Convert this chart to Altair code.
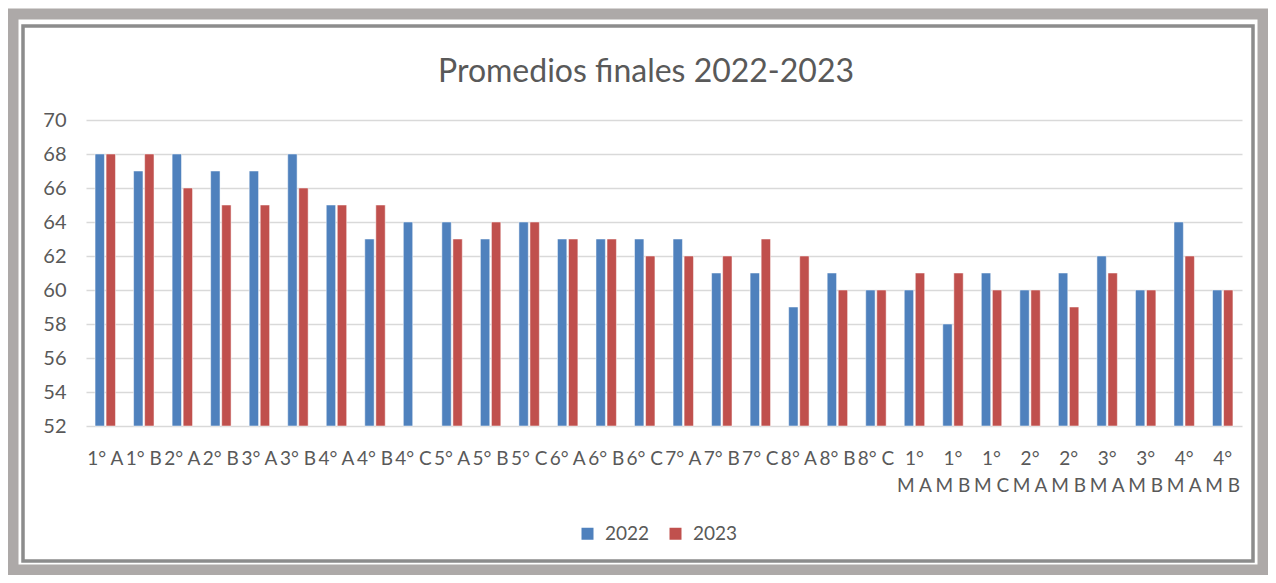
import altair as alt
import pandas as pd

grupos = ["1° A", "1° B", "2° A", "2° B", "3° A", "3° B", "4° A", "4° B", "4° C",
          "5° A", "5° B", "5° C", "6° A", "6° B", "6° C", "7° A", "7° B", "7° C",
          "8° A", "8° B", "8° C", "1° M A", "1° M B", "1° M C", "2° M A", "2° M B",
          "3° M A", "3° M B", "4° M A", "4° M B"]
v2022 = [68, 67, 68, 67, 67, 68, 65, 63, 64, 64, 63, 64, 63, 63, 63, 63, 61, 61,
         59, 61, 60, 60, 58, 61, 60, 61, 62, 60, 64, 60]
v2023 = [68, 68, 66, 65, 65, 66, 65, 65, None, 63, 64, 64, 63, 63, 62, 62, 62, 63,
         62, 60, 60, 61, 61, 60, 60, 59, 61, 60, 62, 60]
series = ["2022", "2023"]
colores = ["#4F81BD", "#C0504D"]
y_ticks = [52, 54, 56, 58, 60, 62, 64, 66, 68, 70]

rows = []
for g, a, b in zip(grupos, v2022, v2023):
    if a is not None:
        rows.append({"grupo": g, "anio": "2022", "valor": a})
    if b is not None:
        rows.append({"grupo": g, "anio": "2023", "valor": b})
df = pd.DataFrame(rows)

FONT = "Lato"
GREY = "#595959"
W, H = 1156, 306

bars = alt.Chart(df).mark_bar(stroke="white", strokeWidth=0.5).encode(
    x=alt.X("grupo:N", sort=grupos, title=None,
            scale=alt.Scale(paddingInner=0.47, paddingOuter=0.235),
            axis=alt.Axis(labelAngle=0, labelFontSize=19, labelColor=GREY, labelFont=FONT,
                          ticks=False, domain=False, labelPadding=23, labelOverlap=False,
                          labelLineHeight=27, labelBound=False,
                          labelExpr="length(datum.label) > 4 ? [substring(datum.label, 0, 2), substring(datum.label, 3)] : datum.label")),
    xOffset=alt.XOffset("anio:N", scale=alt.Scale(paddingInner=0.15)),
    y=alt.Y("valor:Q", title=None,
            scale=alt.Scale(domain=[52, 70], zero=False, nice=False),
            axis=alt.Axis(values=y_ticks, labelFontSize=20, labelColor=GREY, labelFont=FONT,
                          ticks=False, domain=False, labelPadding=20,
                          gridColor="#D9D9D9", gridWidth=1.4)),
    y2=alt.datum(52),
    color=alt.Color("anio:N", title=None,
                    scale=alt.Scale(domain=series, range=colores),
                    legend=alt.Legend(orient="none", legendX=492, legendY=404,
                                      direction="horizontal", symbolType="square",
                                      symbolSize=144, symbolStrokeWidth=0,
                                      labelFontSize=19, labelColor=GREY, labelFont=FONT,
                                      columnPadding=16, labelOffset=8, padding=0)),
)

frame_data = alt.Data(values=[{"k": 1}])
outer = alt.Chart(frame_data).mark_rect(filled=False, stroke="#ADA9A8", strokeWidth=11).encode(
    x=alt.value(-73), x2=alt.value(1177), y=alt.value(-106), y2=alt.value(450))
inner = alt.Chart(frame_data).mark_rect(filled=False, stroke="#8C8C8C", strokeWidth=3.5).encode(
    x=alt.value(-63), x2=alt.value(1167), y=alt.value(-94), y2=alt.value(441))

chart = alt.layer(outer, inner, bars).properties(
    width=W, height=H,
    autosize=alt.AutoSizeParams(type="none"),
    padding={"left": 78, "top": 112, "right": 26, "bottom": 149},
    background="white",
    title=alt.Title("Promedios finales 2022-2023", fontSize=32, font=FONT, color=GREY,
                    fontWeight="normal", anchor="middle", dx=-18, offset=-80),
).configure_view(stroke=None)

chart.save("out.html", embed_options={"renderer": "svg", "actions": False})
